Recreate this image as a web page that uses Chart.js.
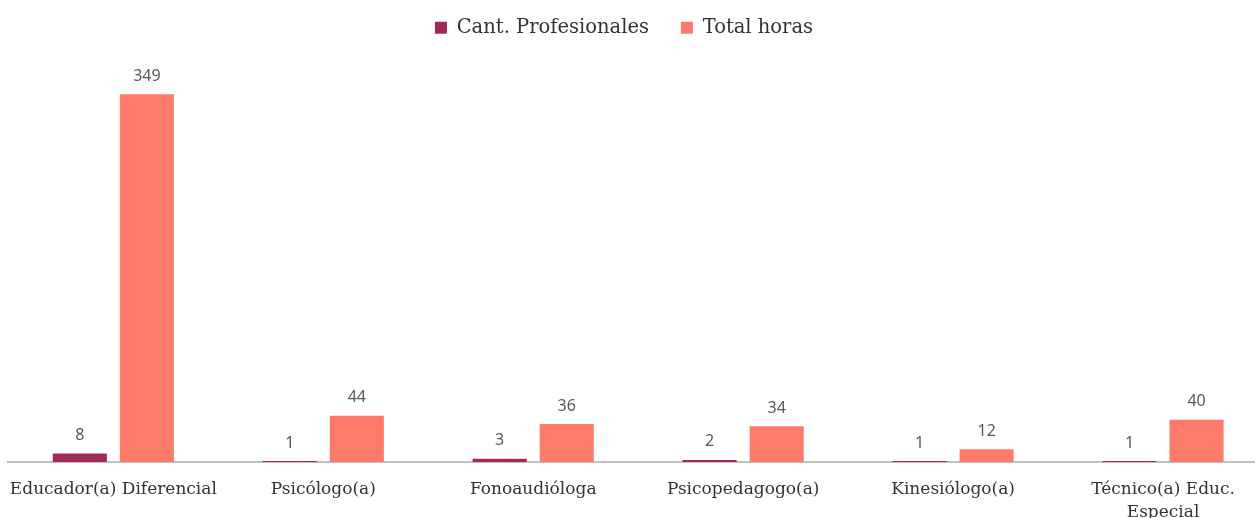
<!DOCTYPE html>
<html>
<head>
<meta charset="utf-8">
<script src="https://cdn.jsdelivr.net/npm/chart.js@4/dist/chart.umd.min.js"></script>
<style>
html,body{margin:0;padding:0;background:#fff;overflow:hidden;}
#wrap{position:relative;width:1276px;height:518px;margin-left:-8px;}
</style>
</head>
<body>
<div id="wrap"><canvas id="c"></canvas></div>
<script>
const categories = ["Educador(a) Diferencial", "Psicólogo(a)", "Fonoaudióloga", "Psicopedagogo(a)", "Kinesiólogo(a)", ["Técnico(a) Educ.", "Especial"]];
const cantProfesionales = [8, 1, 3, 2, 1, 1];
const totalHoras = [349, 44, 36, 34, 12, 40];
const seriesNames = ["Cant. Profesionales", "Total horas"];

const valueLabels = {
  id: 'valueLabels',
  afterDatasetsDraw(chart) {
    const ctx = chart.ctx;
    ctx.save();
    ctx.font = '16px "Noto Sans", "Open Sans", sans-serif';
    ctx.fillStyle = '#595959';
    ctx.textAlign = 'center';
    ctx.textBaseline = 'middle';
    chart.data.datasets.forEach((ds, i) => {
      const meta = chart.getDatasetMeta(i);
      meta.data.forEach((bar, j) => {
        ctx.fillText(String(ds.data[j]), bar.x, bar.y - 18);
      });
    });
    ctx.restore();
  }
};

const legendShift = {
  id: 'legendShift',
  afterLayout(chart) {
    const lg = chart.legend;
    if (!lg) return;
    const dy = -14 - lg.top;
    lg.top += dy; lg.bottom += dy;
    lg.left -= 11; lg.right -= 11;
  }
};

new Chart(document.getElementById('c'), {
  type: 'bar',
  data: {
    labels: categories,
    datasets: [
      { label: seriesNames[0], data: cantProfesionales, backgroundColor: '#a3285a', categoryPercentage: 0.639, barPercentage: 0.806 },
      { label: seriesNames[1], data: totalHoras, backgroundColor: '#fe7b6c', categoryPercentage: 0.639, barPercentage: 0.806 }
    ]
  },
  options: {
    responsive: true,
    maintainAspectRatio: false,
    animation: false,
    layout: { padding: { left: 10, right: 0, top: 0, bottom: 0 } },
    plugins: {
      legend: {
        position: 'top',
        labels: {
          boxWidth: 12, boxHeight: 12, padding: 32,
          color: '#333333',
          font: { family: '"DejaVu Serif", serif', size: 19.5 }
        }
      },
      tooltip: { enabled: false }
    },
    scales: {
      x: {
        grid: { display: false, drawTicks: false },
        border: { display: true, color: '#c0c0c0', width: 2 },
        ticks: {
          color: '#333333',
          padding: 17,
          maxRotation: 0,
          autoSkip: false,
          font: { family: '"DejaVu Serif", serif', size: 17, lineHeight: 1.3 }
        },
        afterFit(s) { s.height = 56; }
      },
      y: {
        display: false,
        min: 0,
        max: 380
      }
    }
  },
  plugins: [valueLabels, legendShift]
});
</script>
</body>
</html>
